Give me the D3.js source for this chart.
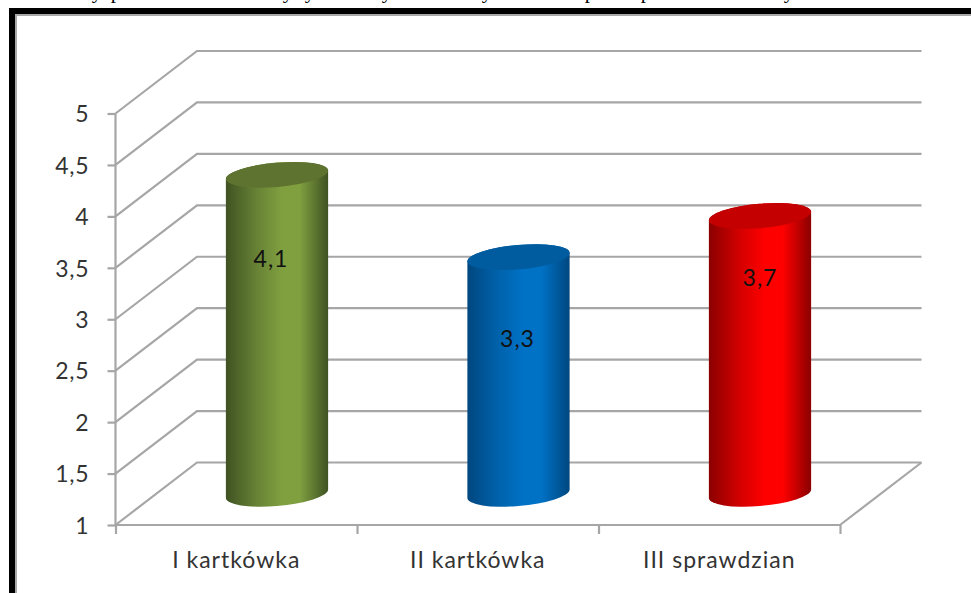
<!DOCTYPE html>
<html lang="pl">
<head>
<meta charset="utf-8">
<title>Wyniki</title>
<script src="https://cdn.jsdelivr.net/npm/d3@7/dist/d3.min.js"></script>
<style>
  html, body { margin: 0; padding: 0; background: #fff; overflow: hidden; }
  svg { display: block; }
  text { font-family: Lato, "Open Sans", sans-serif; fill: #333; }
</style>
</head>
<body>
<script>
// Chart content
const categories = ["I kartkówka", "II kartkówka", "III sprawdzian"];
const averages = [4.1, 3.3, 3.7];
const valueLabels = ["4,1", "3,3", "3,7"];
const yTicks = [1, 1.5, 2, 2.5, 3, 3.5, 4, 4.5, 5];

// Cylinder shading: [edge, mid, lid]
const shades = [
  ["#3f5222", "#80a040", "#5f7330"],
  ["#00477f", "#0072c6", "#005c9f"],
  ["#8a0000", "#ff0000", "#c40000"]
];

// Height along the value axis at which each value label sits
const labelLevels = [3.28, 2.51, 3.1];
const labelShift = [-6, -1, 0];

// Descenders of the line of body text that runs above the frame
const runningText = [["y", 97], ["p", 116], ["y", 288], ["y", 310], ["y", 387], ["y", 487], ["p", 590], ["p", 646], ["y", 789]];

const width = 971, height = 593;
const depthX = 81.5, depthY = -62.5;
const gridColor = "#a6a6a6";

const svg = d3.select("body").append("svg").attr("width", width).attr("height", height);

// Outer frame, open past the right and bottom edges of the page
svg.append("path").attr("fill", "none").attr("stroke", "#000").attr("stroke-width", 6)
  .attr("d", `M12,${height + 10}V11H${width + 10}`);
svg.append("path").attr("fill", "none").attr("stroke", "#a8a8a8").attr("stroke-width", 2)
  .attr("d", `M16,${height + 10}V15H${width + 10}`);

svg.append("g").selectAll("text").data(runningText).join("text")
  .style("font-family", "'Liberation Serif', serif").style("fill", "#000").attr("font-size", 21)
  .attr("x", d => d[1]).attr("y", -2.5).attr("text-anchor", "middle").text(d => d[0]);

const y = d3.scaleLinear().domain([1, 5]).range([525, 113.5]);
const x = d3.scaleBand().domain(categories).range([115.5, 840]);

// Back wall and side wall grid lines
const grid = svg.append("g").attr("fill", "none").attr("stroke", gridColor).attr("stroke-width", 2.2);
grid.selectAll("path").data(yTicks).join("path")
  .attr("d", v => `M${x.range()[0]},${y(v)}l${depthX},${depthY}H${x.range()[1] + depthX}`);
// Front-right floor edge
grid.append("path").attr("d", `M${x.range()[1]},${y(1)}l${depthX},${depthY}`);

// Value axis
const yAxis = d3.axisLeft(y).tickValues(yTicks).tickSize(8).tickPadding(18)
  .tickFormat(d => String(d).replace(".", ","));
const gy = svg.append("g").attr("transform", `translate(${x.range()[0]},0)`).call(yAxis);
gy.select(".domain").attr("stroke", gridColor).attr("stroke-width", 2.2).attr("d", `M0,${y(5)}V${y(1)}`);
gy.selectAll(".tick line").attr("stroke", gridColor).attr("stroke-width", 2.2);
gy.selectAll("text").attr("font-size", 23).attr("letter-spacing", 0.8).attr("dy", "0.36em");

// Category axis: ticks mark the category boundaries, labels are centred between them
const edges = d3.scaleLinear().domain([0, categories.length]).range(x.range());
const xAxis = d3.axisBottom(edges).tickValues(d3.range(categories.length + 1)).tickSize(9).tickFormat("");
const gx = svg.append("g").attr("transform", `translate(0,${y(1)})`).call(xAxis);
gx.select(".domain").attr("stroke", gridColor).attr("stroke-width", 2.2).attr("d", `M${x.range()[0]},0H${x.range()[1]}`);
gx.selectAll(".tick line").attr("stroke", gridColor).attr("stroke-width", 2.2);
svg.append("g").selectAll("text").data(categories).join("text")
  .attr("x", d => x(d) + x.bandwidth() / 2).attr("y", 568)
  .attr("text-anchor", "middle").attr("font-size", 23).attr("letter-spacing", 1).text(d => d);

// Horizontal shading across each cylinder
const defs = svg.append("defs");
shades.forEach((s, i) => {
  const g = defs.append("linearGradient").attr("id", `cyl${i}`);
  [[0, s[0]], [0.3, d3.interpolateRgb(s[0], s[1])(0.62)], [0.55, s[1]], [0.72, s[1]], [1, s[0]]]
    .forEach(([o, c]) => g.append("stop").attr("offset", o).attr("stop-color", c));
});

// Tilted ellipse of the cylinder ends; tangent points are where the sides meet it
const rx = 51.3, ry = 12.2, tilt = -5;
const tiltRad = tilt * Math.PI / 180;
const halfW = Math.hypot(rx * Math.cos(tiltRad), ry * Math.sin(tiltRad));
const tangentY = (rx * rx - ry * ry) * Math.sin(tiltRad) * Math.cos(tiltRad) / halfW;

const bars = svg.append("g").selectAll("g").data(categories).join("g");
bars.each(function (c, i) {
  const cx = x(c) + x.bandwidth() / 2 + depthX / 2;
  const top = y(averages[i]) + depthY / 2;
  const bottom = y(1) + depthY / 2;
  const sel = d3.select(this);
  sel.append("path").attr("fill", `url(#cyl${i})`)
    .attr("d", `M${cx - halfW},${top - tangentY}V${bottom - tangentY}` +
      `A${rx},${ry} ${tilt} 0 0 ${cx + halfW},${bottom + tangentY}` +
      `V${top + tangentY}A${rx},${ry} ${tilt} 0 0 ${cx - halfW},${top - tangentY}Z`);
  sel.append("ellipse").attr("rx", rx).attr("ry", ry).attr("fill", shades[i][2])
    .attr("transform", `translate(${cx},${top}) rotate(${tilt})`);
  sel.append("text").attr("x", cx + labelShift[i]).attr("y", y(labelLevels[i]) + depthY / 2)
    .attr("dy", "0.36em").attr("text-anchor", "middle").attr("font-size", 23).attr("letter-spacing", 1)
    .style("fill", "#111").text(valueLabels[i]);
});
</script>
</body>
</html>
